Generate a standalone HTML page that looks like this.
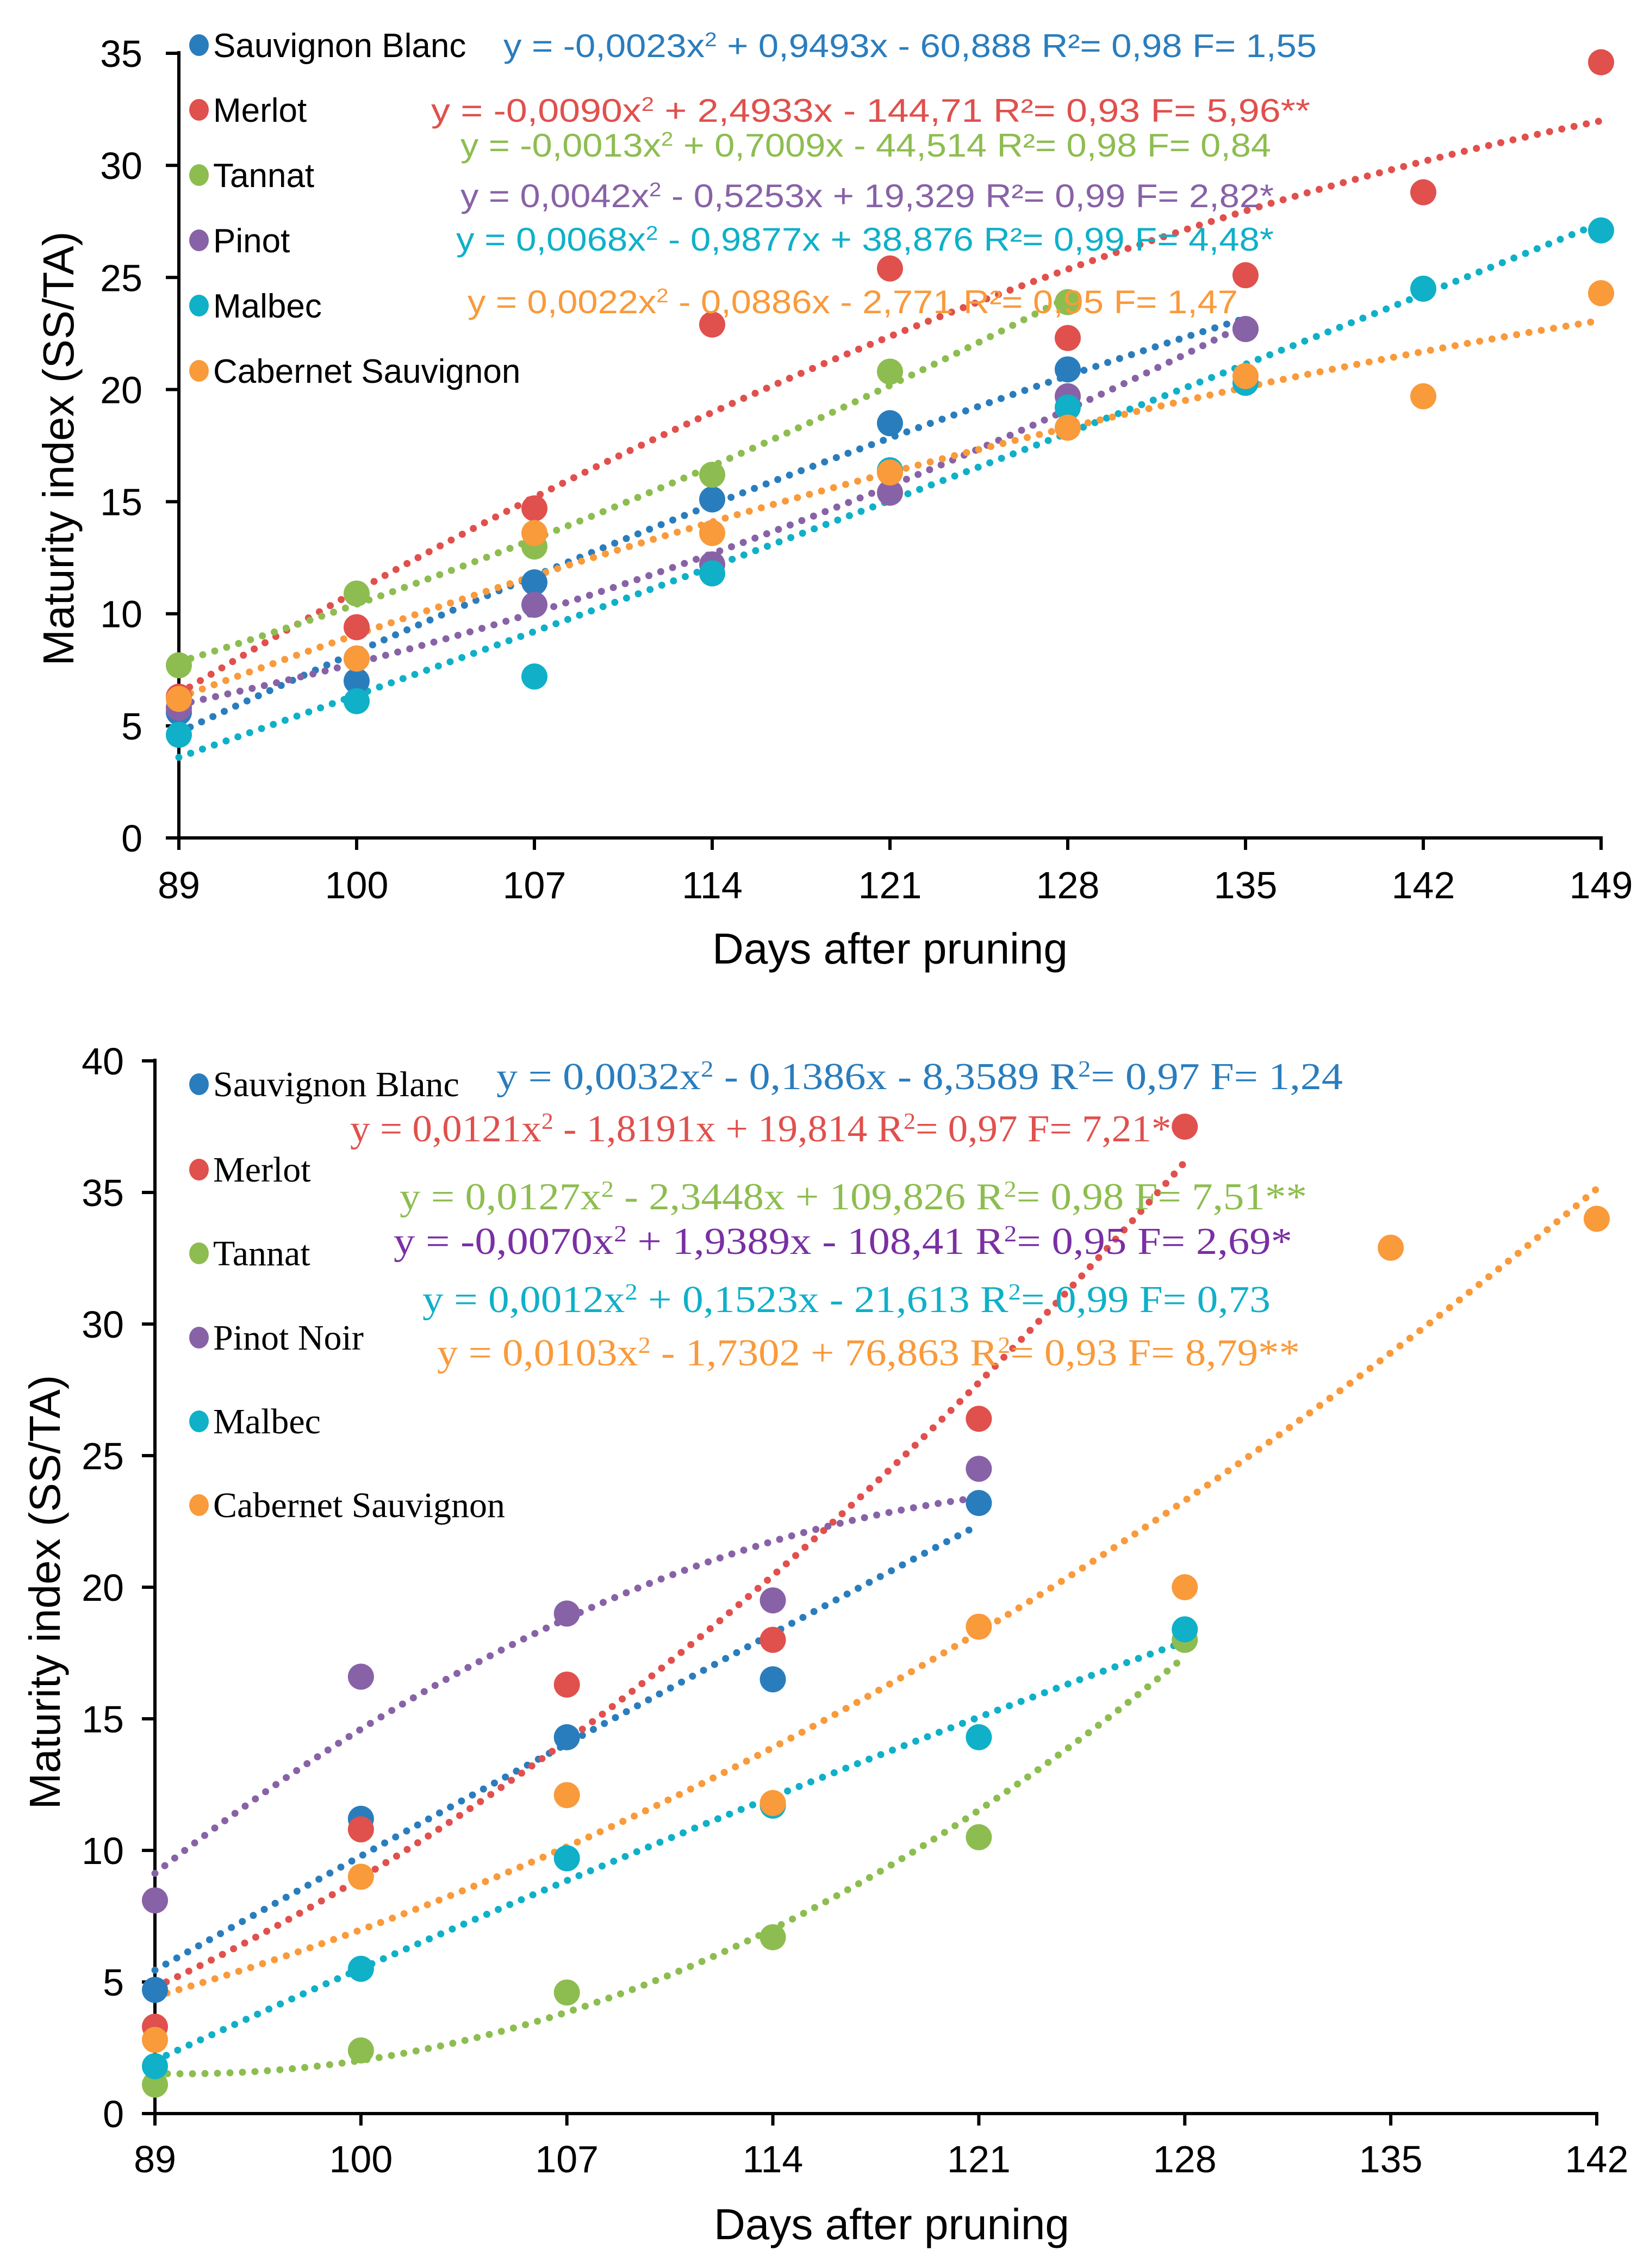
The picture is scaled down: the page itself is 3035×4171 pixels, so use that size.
<!DOCTYPE html>
<html><head><meta charset="utf-8"><title>Maturity index charts</title>
<style>
html,body{margin:0;padding:0;background:#fff;}
svg{display:block;}
.tick{font-family:"Liberation Sans",Arial,sans-serif;font-size:70px;fill:#000;}
.ttl{font-family:"Liberation Sans",Arial,sans-serif;font-size:80px;fill:#000;}
.leg1{font-family:"Liberation Sans",Arial,sans-serif;font-size:62px;fill:#000;}
.eq1{font-family:"Liberation Sans",Arial,sans-serif;font-size:60px;}
.leg2{font-family:"Liberation Serif","Times New Roman",serif;font-size:66px;fill:#000;}
.eq2{font-family:"Liberation Serif","Times New Roman",serif;font-size:70px;}
</style></head>
<body>
<svg id="root" xmlns="http://www.w3.org/2000/svg" width="3035" height="4171" viewBox="0 0 3035 4171">
<rect width="3035" height="4171" fill="#fff"/>
<g id="c1"></g>
<g id="c2"></g>
</svg>
<script>
// ---- Chart 1 data ----
const days1 = ["89","100","107","114","121","128","135","142","149"];
const yTicks1 = [0,5,10,15,20,25,30,35];
const sb1 = [5.6,7.0,11.4,15.1,18.5,20.9,22.7];
const me1 = [6.3,9.4,14.7,22.9,25.4,22.3,25.1,28.8,34.6];
const ta1 = [7.7,10.9,13.0,16.2,20.8,23.9];
const pi1 = [5.8,8.0,10.4,12.2,15.4,19.7,22.7];
const ma1 = [4.6,6.1,7.2,11.8,16.4,19.2,20.3,24.5,27.1];
const ca1 = [6.2,8.0,13.6,13.6,16.3,18.3,20.6,19.7,24.3];
const names1 = ["Sauvignon Blanc","Merlot","Tannat","Pinot","Malbec","Cabernet Sauvignon"];
const eqs1 = [
 ["y = -0,0023x","2"," + 0,9493x - 60,888 R²= 0,98 F= 1,55"],
 ["y = -0,0090x","2"," + 2,4933x - 144,71 R²= 0,93 F= 5,96**"],
 ["y = -0,0013x","2"," + 0,7009x - 44,514 R²= 0,98 F= 0,84"],
 ["y = 0,0042x","2"," - 0,5253x + 19,329 R²= 0,99 F= 2,82*"],
 ["y = 0,0068x","2"," - 0,9877x + 38,876 R²= 0,99 F= 4,48*"],
 ["y = 0,0022x","2"," - 0,0886x - 2,771 R²= 0,95 F= 1,47"]
];
// ---- Chart 2 data ----
const days2 = ["89","100","107","114","121","128","135","142"];
const yTicks2 = [0,5,10,15,20,25,30,35,40];
const sb2 = [4.7,11.2,14.3,16.5,23.2];
const me2 = [3.3,10.8,16.3,18.0,26.4,37.5];
const ta2 = [1.1,2.4,4.6,6.7,10.5,18.0];
const pi2 = [8.1,16.6,19.0,19.5,24.5];
const ma2 = [1.8,5.5,9.7,11.7,14.3,18.4];
const ca2 = [2.8,9.0,12.1,11.8,18.5,20.0,32.9,34.0];
const names2 = ["Sauvignon Blanc","Merlot","Tannat","Pinot Noir","Malbec","Cabernet Sauvignon"];
const eqs2 = [
 ["y = 0,0032x","2","  - 0,1386x - 8,3589 R","2","= 0,97 F= 1,24"],
 ["y = 0,0121x","2"," - 1,8191x + 19,814 R","2","= 0,97 F= 7,21**"],
 ["y = 0,0127x","2"," - 2,3448x + 109,826 R","2","= 0,98 F= 7,51**"],
 ["y = -0,0070x","2"," + 1,9389x - 108,41 R","2","= 0,95 F= 2,69*"],
 ["y = 0,0012x","2"," + 0,1523x - 21,613 R","2","= 0,99 F= 0,73"],
 ["y = 0,0103x","2"," - 1,7302 + 76,863 R","2","= 0,93 F= 8,79**"]
];
const colors = ["#2a7dbd","#e0504d","#8dbd50","#8862a6","#0fb0c8","#f99a3b"];
const eqColors2 = ["#2a7dbd","#e0504d","#8dbd50","#7a2fa3","#0fb0c8","#f99a3b"];
const NS="http://www.w3.org/2000/svg";
function mk(parent,tag,attrs){const e=document.createElementNS(NS,tag);for(const k in attrs)e.setAttribute(k,attrs[k]);parent.appendChild(e);return e;}
function quadFit(ys){let n=ys.length,S=[0,0,0,0,0],T=[0,0,0];
 for(let i=0;i<n;i++){let p=1;for(let k=0;k<5;k++){S[k]+=p;if(k<3)T[k]+=p*ys[i];p*=i;}}
 const A=[[S[0],S[1],S[2],T[0]],[S[1],S[2],S[3],T[1]],[S[2],S[3],S[4],T[2]]];
 for(let c=0;c<3;c++){for(let r=c+1;r<3;r++){const f=A[r][c]/A[c][c];for(let k=c;k<4;k++)A[r][k]-=f*A[c][k];}}
 const x=[0,0,0];for(let r=2;r>=0;r--){let s=A[r][3];for(let k=r+1;k<3;k++)s-=A[r][k]*x[k];x[r]=s/A[r][r];}
 return x;}
function drawChart(g,cfg){
 const xs=i=>cfg.x0+(cfg.x1-cfg.x0)*i/(cfg.days.length-1);
 const ys=v=>cfg.y0+(cfg.yT-cfg.y0)*v/cfg.yMax;
 // axes (drawn first so markers sit on top)
 const ax=mk(g,"line",{x1:cfg.x0,y1:cfg.yT-4,x2:cfg.x0,y2:cfg.y0+22,stroke:"#000","stroke-width":6});
 
 
 const bx=mk(g,"line",{x1:cfg.x0-24,y1:cfg.y0,x2:cfg.x1+3,y2:cfg.y0,stroke:"#000","stroke-width":6});
 
 
 cfg.yTicks.forEach(v=>{
  mk(g,"line",{x1:cfg.x0-24,y1:ys(v),x2:cfg.x0,y2:ys(v),stroke:"#000","stroke-width":6});
  const t=mk(g,"text",{x:cfg.yLabX,y:ys(v)+25,"text-anchor":"end",class:"tick"});t.textContent=v;
  
  
 });
 cfg.days.forEach((d,i)=>{
  mk(g,"line",{x1:xs(i),y1:cfg.y0,x2:xs(i),y2:cfg.y0+22,stroke:"#000","stroke-width":6});
  const t=mk(g,"text",{x:xs(i),y:cfg.xLabY,"text-anchor":"middle",class:"tick"});t.textContent=d;
  
  
 });
 // trend lines
 cfg.series.forEach((s,si)=>{
  const c=quadFit(s);let d="";const n=s.length-1;
  for(let k=0;k<=60;k++){const t=n*k/60;const v=c[0]+c[1]*t+c[2]*t*t;d+=(k?"L":"M")+xs(t).toFixed(1)+" "+ys(v).toFixed(1);}
  const p=mk(g,"path",{d:d,fill:"none",stroke:colors[si],"stroke-width":13,"stroke-linecap":"round","stroke-dasharray":"0 23"});
  
  
 });
 // points
 cfg.series.forEach((s,si)=>{
  s.forEach((v,i)=>{
   const c=mk(g,"circle",{cx:xs(i),cy:ys(v),r:24,fill:colors[si]});
   
   
  });
 });
 const xt=mk(g,"text",{x:cfg.xTitle[0],y:cfg.xTitle[1],"text-anchor":"middle",class:"ttl"});xt.textContent="Days after pruning";
 
 
 const yt=mk(g,"text",{x:0,y:0,"text-anchor":"middle",class:"ttl",transform:"translate("+cfg.yTitle[0]+","+cfg.yTitle[1]+") rotate(-90)"});yt.textContent="Maturity index  (SS/TA)";
 
 
 // legend
 cfg.names.forEach((nm,i)=>{
  const lg=mk(g,"g",{});
  
  
  mk(lg,"ellipse",{cx:cfg.legX,cy:cfg.legY[i],rx:18,ry:20,fill:colors[i]});
  const t=mk(lg,"text",{x:cfg.legX+26,y:cfg.legY[i]+22,class:cfg.legCls});t.textContent=nm;
 });
 // equations
 cfg.eqs.forEach((parts,i)=>{
  const e=cfg.eqPos[i];
  const t=mk(g,"text",{x:e[0],y:e[2],class:cfg.eqCls,fill:cfg.eqColors[i],textLength:e[1]-e[0],lengthAdjust:"spacingAndGlyphs"});
  
  
  parts.forEach((p,k)=>{const ts=mk(t,"tspan",{});if(k%2===1){ts.setAttribute("baseline-shift","super");ts.setAttribute("font-size","60%");}ts.textContent=p;});
 });
}
drawChart(document.getElementById("c1"),{
 days:days1,yTicks:yTicks1,yMax:35,x0:329,x1:2945,y0:1541,yT:98,
 series:[sb1,me1,ta1,pi1,ma1,ca1],names:names1,eqs:eqs1,eqColors:colors,
 yLabX:262,xLabY:1652,xTitle:[1637,1772],yTitle:[135,825],
 legX:366,legY:[83,202,322,442,562,682],legCls:"leg1",eqCls:"eq1",
 eqPos:[[926,2422,105],[793,2410,224],[847,2338,288],[847,2343,381],[839,2343,461],[860,2277,576]]
});
drawChart(document.getElementById("c2"),{
 days:days2,yTicks:yTicks2,yMax:40,x0:285,x1:2937,y0:3887,yT:1951,
 series:[sb2,me2,ta2,pi2,ma2,ca2],names:names2,eqs:eqs2,eqColors:eqColors2,
 yLabX:228,xLabY:3995,xTitle:[1640,4118],yTitle:[110,2928],
 legX:366,legY:[1994,2151,2305,2460,2614,2768],legCls:"leg2",eqCls:"eq2",
 eqPos:[[913,2470,2003],[644,2191,2099],[735,2404,2224],[724,2377,2306],[777,2337,2413],[804,2391,2511]]
});
</script>
</body></html>
